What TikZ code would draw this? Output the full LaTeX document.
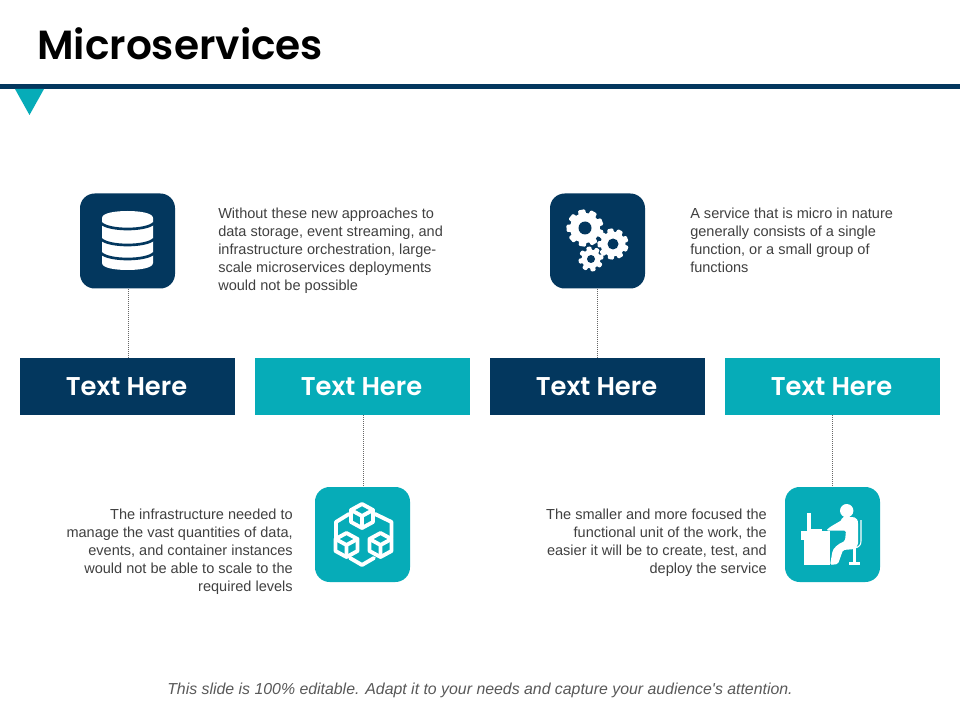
\documentclass[tikz,border=0pt]{standalone}
\usepackage{fontspec}
\setmainfont{Liberation Sans}
\newfontfamily\footfont[Ligatures=Common]{Liberation Sans}
\newfontfamily\titlefont{Poppins SemiBold}
\definecolor{navy}{HTML}{03375E}
\definecolor{teal2}{HTML}{06ACB8}
\definecolor{bodytxt}{HTML}{404040}
\definecolor{foot}{HTML}{595959}
\tikzset{
  x=0.75pt,y=-0.75pt,
  barbox/.style={minimum width=161.25pt,minimum height=42.75pt,inner sep=0pt,text=white,font=\titlefont\fontsize{19.3}{23}\selectfont},
  iconbox/.style={minimum width=71.25pt,minimum height=71.25pt,inner sep=0pt,rounded corners=11pt},
  para/.style={inner sep=0pt,text=bodytxt,font=\fontsize{10.9}{13.5}\selectfont},
  link/.style={draw=black!60,densely dotted,line width=0.5pt},
  wline/.style={draw=white,line width=2.9pt,line join=round,line cap=round},
}
\newcommand{\cog}[6]{% x y R r hole teeth
  \begin{scope}[shift={(#1,#2)}]
    \fill[white] (0,0) circle[radius=#4];
    \foreach \k in {1,...,#6}{
      \fill[white,rotate=\k*360/#6+11,rounded corners=0.8pt] (-0.26*#3,0) -- (-0.19*#3,-#3) -- (0.19*#3,-#3) -- (0.26*#3,0) -- cycle;
    }
    \fill[navy] (0,0) circle[radius=#5];
  \end{scope}}
\newcommand{\cube}[2]{% cx cy
  \begin{scope}[shift={(#1,#2)}]
    \draw[wline] (0,-12) -- (11,-6) -- (11,6) -- (0,12) -- (-11,6) -- (-11,-6) -- cycle;
    \draw[wline] (-11,-6) -- (0,0) -- (11,-6) (0,0) -- (0,12);
  \end{scope}}
\begin{document}
\begin{tikzpicture}
\useasboundingbox (0,0) rectangle (960,720);
\fill[white] (0,0) rectangle (960,720);

\node[anchor=west,inner sep=0pt,font=\titlefont\fontsize{30.5}{36}\selectfont] (title) at (37,44) {Microservices};
\fill[navy] (0,84) rectangle (960,89);
\fill[teal2] (15,89) -- (44,89) -- (29.5,115) -- cycle;

\node[barbox,fill=navy] (b1) at (127.5,386.5) {\raisebox{-1.2pt}{\hspace{-1.5pt}Text Here}};
\node[barbox,fill=teal2] (b2) at (362.5,386.5) {\raisebox{-1.2pt}{\hspace{-1.5pt}Text Here}};
\node[barbox,fill=navy] (b3) at (597.5,386.5) {\raisebox{-1.2pt}{\hspace{-1.5pt}Text Here}};
\node[barbox,fill=teal2] (b4) at (832.5,386.5) {\raisebox{-1.2pt}{\hspace{-1.5pt}Text Here}};

\node[iconbox,fill=navy] (i1) at (127.5,241) {};
\node[iconbox,fill=navy] (i3) at (597.5,241) {};
\node[iconbox,fill=teal2] (i2) at (362.5,534.5) {};
\node[iconbox,fill=teal2] (i4) at (832.5,534.5) {};

\draw[link] ([xshift=.7pt]i1.south) -- ([xshift=.7pt]b1.north);
\draw[link] (i3) -- (b3);
\draw[link] ([xshift=.7pt]b2.south) -- ([xshift=.7pt]i2.north);
\draw[link] (b4) -- (i4);

% database
\fill[white] (102,218) .. controls (102,213) and (115,211) .. (127.5,211) .. controls (140,211) and (153,213) .. (153,218)
  -- (153,263) .. controls (153,268) and (140,270) .. (127.5,270) .. controls (115,270) and (102,268) .. (102,263) -- cycle;
\foreach \yy in {223,239,253}{
  \draw[navy,line width=2pt] (101,\yy) .. controls (108,\yy+8) and (147,\yy+8) .. (154,\yy);
}

% gears
\cog{585}{228}{18.5}{15}{6.5}{9}
\cog{613}{244}{15.5}{12.5}{5.5}{9}
\cog{591}{259}{12.5}{9.5}{4}{8}

% cubes
\draw[wline] (349,514) -- (336,522) -- (336,538);
\draw[wline] (375,514) -- (391.5,522) -- (391.5,538);
\draw[wline] (350,558) -- (362,565) -- (374,558);
\cube{362}{516}
\cube{346.5}{545}
\cube{380.5}{545}

% person at desk
\fill[white] (801,531) rectangle (830,540);
\fill[white] (804,540) rectangle (830,565);
\fill[white] (807.3,513) rectangle (810.7,531);
\fill[white] (810,529) rectangle (822,531);
\fill[white] (846.7,510.7) circle[radius=6.7];
\fill[white,rounded corners=1.2pt] (842,517) -- (853,517) .. controls (856.5,518) and (858,520) .. (858,525) -- (858,545) -- (855,549)
  -- (843,550) -- (838,564) -- (830,565) -- (832,554) .. controls (833,548) and (838,544) .. (845,541)
  -- (846,530.5) -- (826,530.5) -- (830,527) -- (842,520) -- cycle;
\draw[white,line width=0.8pt] (861,520) -- (861,541) .. controls (861,545) and (859,547) .. (855,548);
\fill[white] (853,548) rectangle (855.5,562);
\fill[white] (849,562) rectangle (860,564.5);

% texts
\node[para,anchor=north west,align=left] (t1) at (218,207.5) {Without these new approaches to\\data storage, event streaming, and\\infrastructure orchestration, large-\\scale microservices deployments\\would not be possible};
\node[para,anchor=north west,align=left] (t3) at (690,207.5) {A service that is micro in nature\\generally consists of a single\\function, or a small group of\\functions};
\node[para,anchor=north east,align=right] (t2) at (293,508.5) {The infrastructure needed to\\manage the vast quantities of data,\\events, and container instances\\would not be able to scale to the\\required levels};
\node[para,anchor=north east,align=right] (t4) at (767,508.5) {The smaller and more focused the\\functional unit of the work, the\\easier it will be to create, test, and\\deploy the service};

\node[inner sep=0pt,text=foot,font=\footfont\fontsize{11.9}{14}\selectfont\itshape] (foot) at (480,690) {This slide is 100\% editable. Adapt it to your needs and capture your audience's attention.};
\end{tikzpicture}
\end{document}
